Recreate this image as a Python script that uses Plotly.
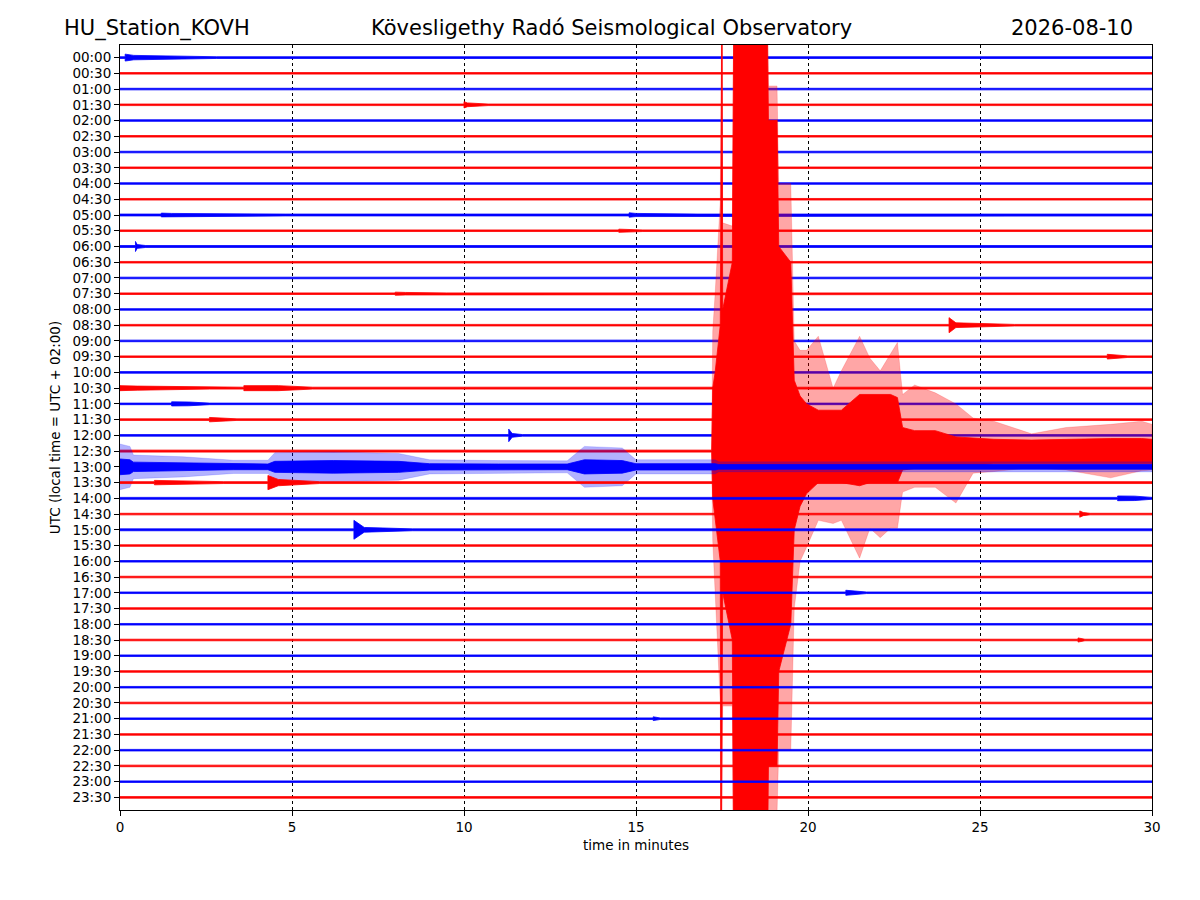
"""
Helicorder (dayplot) of station KOVH, 30-minute lines
- one envelope polygon per line, blue/red alternating
- the big event on the 12:30 line drawn in two layers (peaks + dense part)
"""
import plotly.graph_objects as go

# ---------------------------------------------------------------------------
# data (amplitudes in units of line spacing)
# ---------------------------------------------------------------------------
line_labels = ["00:00", "00:30", "01:00", "01:30", "02:00", "02:30", "03:00", "03:30",
               "04:00", "04:30", "05:00", "05:30", "06:00", "06:30", "07:00", "07:30",
               "08:00", "08:30", "09:00", "09:30", "10:00", "10:30", "11:00", "11:30",
               "12:00", "12:30", "13:00", "13:30", "14:00", "14:30", "15:00", "15:30",
               "16:00", "16:30", "17:00", "17:30", "18:00", "18:30", "19:00", "19:30",
               "20:00", "20:30", "21:00", "21:30", "22:00", "22:30", "23:00", "23:30"]

# background noise half-width of every line
base_amp = [0.055, 0.05, 0.05, 0.05, 0.05, 0.05, 0.05, 0.05,
            0.05, 0.05, 0.06, 0.05, 0.06, 0.05, 0.05, 0.05,
            0.05, 0.05, 0.05, 0.05, 0.05, 0.06, 0.05, 0.05,
            0.05, 0.05, 0.2, 0.06, 0.06, 0.05, 0.06, 0.05,
            0.05, 0.05, 0.05, 0.05, 0.05, 0.05, 0.05, 0.05,
            0.05, 0.05, 0.05, 0.05, 0.05, 0.05, 0.05, 0.05]

# small local bursts: line, start, end of onset, end (minutes), onset / coda half-width
burst_line = [0, 3, 10, 10, 11, 12, 15, 17, 19, 21, 21, 22, 23, 24, 27, 27, 28, 29, 30, 34, 37, 42]
burst_start = [0.15, 10.0, 1.2, 14.8, 14.5, 0.45, 8.0, 24.1, 28.7, 0.0, 3.6, 1.5, 2.6, 11.3,
               1.0, 4.3, 29.0, 27.9, 6.8, 21.1, 27.85, 15.5]
burst_decay = [0.4, 10.1, 1.5, 15.0, 14.7, 0.5, 8.3, 24.3, 29.0, 0.5, 4.6, 2.0, 2.8, 11.4,
               1.5, 4.6, 29.5, 28.0, 7.1, 21.3, 27.95, 15.6]
burst_end = [2.8, 10.7, 4.8, 16.8, 15.2, 0.75, 9.5, 26.0, 29.3, 2.6, 5.6, 2.6, 3.4, 11.7,
             3.0, 5.8, 30.0, 28.2, 8.5, 21.7, 28.05, 15.7]
burst_amp = [0.22, 0.2, 0.12, 0.14, 0.1, 0.32, 0.1, 0.48, 0.15, 0.16, 0.16, 0.13, 0.14, 0.4,
             0.14, 0.45, 0.15, 0.2, 0.6, 0.16, 0.13, 0.12]
burst_tail = [0.14, 0.12, 0.1, 0.1, 0.08, 0.12, 0.08, 0.15, 0.12, 0.13, 0.16, 0.12, 0.12, 0.12,
              0.12, 0.2, 0.14, 0.1, 0.15, 0.12, 0.1, 0.08]

# the 13:00 line (continuing coda): peaks and dense part
l1300_min = [0.0, 0.29, 0.39, 1.84, 3.3, 4.3, 4.5, 6.2, 8.1, 9.0, 11.0, 13.0, 13.5, 14.6,
             15.0, 17.3, 17.4, 30.0]
l1300_out = [1.45, 1.3, 0.75, 0.64, 0.42, 0.42, 0.9, 0.95, 0.85, 0.45, 0.4, 0.38, 1.3, 1.2,
             0.45, 0.45, 0.32, 0.32]
l1300_in = [0.5, 0.45, 0.3, 0.25, 0.18, 0.18, 0.35, 0.4, 0.35, 0.2, 0.18, 0.18, 0.45, 0.4,
            0.2, 0.2, 0.15, 0.15]

# the earthquake on the 12:30 line: peaks (outer) and dense part (inner)
quake_min = [0.0, 17.2, 17.23, 17.3, 17.45, 17.47, 17.5, 17.52, 17.8, 17.85, 18.8, 18.85,
             19.1, 19.15, 19.5, 19.6, 19.77, 19.96, 20.3, 20.73, 20.97, 21.5, 21.8, 22.1,
             22.4, 22.6, 22.75, 23.1, 23.7, 24.3, 24.8, 25.4, 26.5, 27.5, 28.8, 29.7, 30.0]
quake_out_up = [0.06, 0.06, 7.6, 10.0, 15.9, 31.0, 31.0, 14.5, 14.3, 31.0, 31.0, 23.2,
                23.2, 17.0, 17.0, 7.0, 6.4, 6.4, 7.3, 4.0, 5.1, 7.3, 5.9, 5.1,
                6.2, 6.9, 3.6, 4.2, 3.7, 3.0, 2.1, 1.9, 1.1, 1.5, 1.7, 1.9, 1.7]
quake_out_dn = [0.06, 0.06, 5.7, 8.9, 16.0, 31.0, 31.0, 16.2, 16.2, 31.0, 31.0, 23.0,
                23.0, 19.0, 19.0, 10.0, 7.0, 6.1, 4.4, 4.6, 4.4, 6.8, 4.9, 5.5,
                4.9, 4.9, 2.6, 2.3, 2.3, 3.3, 1.4, 1.3, 1.05, 1.2, 1.7, 1.25, 1.2]
quake_in_up = [0.06, 0.06, 4.0, 5.0, 8.0, 31.0, 31.0, 9.0, 12.0, 31.0, 31.0, 21.0,
               21.0, 13.0, 12.0, 4.5, 3.5, 3.0, 2.6, 2.6, 2.6, 3.6, 3.6, 3.6,
               3.6, 3.4, 1.5, 1.3, 1.3, 0.9, 0.85, 0.75, 0.7, 0.75, 0.8, 0.8, 0.75]
quake_in_dn = [0.06, 0.06, 3.0, 4.0, 7.0, 31.0, 31.0, 9.0, 12.0, 31.0, 31.0, 20.0,
               20.0, 14.0, 11.0, 5.0, 3.5, 2.7, 2.0, 2.0, 2.0, 2.2, 2.0, 2.0,
               2.0, 2.0, 1.2, 1.1, 1.1, 1.0, 0.9, 0.8, 0.8, 0.8, 0.8, 0.8, 0.8]
QUAKE_LINE = 25
CODA_LINE = 26

colors = ["#0000ff", "#ff0000"]
faint = ["rgba(0,0,255,0.3)", "rgba(255,0,0,0.35)"]


def band(x, up, dn, pos):
    # closed polygon: top edge left->right, bottom edge right->left
    xs = list(x) + list(x)[::-1]
    ys = [pos - u for u in up] + [pos + d for d in dn][::-1]
    return xs, ys


def add_band(fig, xs, ys, fill, width=0.8):
    fig.add_trace(go.Scatter(x=xs, y=ys, fill="toself", fillcolor=fill,
                             mode="lines", line=dict(color=fill, width=width),
                             hoverinfo="skip", showlegend=False))


fig = go.Figure()

for i, lab in enumerate(line_labels):
    col = colors[i % 2]
    b = base_amp[i]
    if i == QUAKE_LINE:
        add_band(fig, *band(quake_min, quake_out_up, quake_out_dn, i), faint[1], 0.5)
        add_band(fig, *band(quake_min, quake_in_up, quake_in_dn, i), col)
        continue
    if i == CODA_LINE:
        add_band(fig, *band(l1300_min, l1300_out, l1300_out, i), faint[0], 0.5)
        add_band(fig, *band(l1300_min, l1300_in, l1300_in, i), col)
        continue
    tx, amp = [0.0], [b]
    for k in sorted([k for k in range(len(burst_line)) if burst_line[k] == i],
                    key=lambda k: burst_start[k]):
        tx += [burst_start[k], burst_start[k], burst_decay[k], burst_end[k]]
        amp += [b, burst_amp[k], burst_tail[k], b]
    tx.append(30.0)
    amp.append(b)
    add_band(fig, *band(tx, amp, amp, i), col)

font = dict(family="DejaVu Sans", color="black")

fig.update_layout(
    width=1200, height=900,
    margin=dict(l=112, r=56, t=37, b=98),
    paper_bgcolor="white", plot_bgcolor="white",
    hovermode=False,
    font=dict(family="DejaVu Sans", size=13.5, color="black"),
    xaxis=dict(range=[0, 30], tickvals=[0, 5, 10, 15, 20, 25, 30],
               ticks="outside", ticklen=5, tickcolor="black",
               showgrid=True, gridcolor="black", griddash="dot", gridwidth=0.6,
               showline=True, linecolor="black", linewidth=1, mirror=True,
               zeroline=False,
               title=dict(text="time in minutes", font=dict(size=13.5), standoff=6)),
    yaxis=dict(range=[47.8, -0.8], tickvals=list(range(len(line_labels))),
               ticktext=line_labels, ticks="outside", ticklen=5, tickcolor="black",
               showgrid=False, zeroline=False,
               showline=True, linecolor="black", linewidth=1, mirror=True,
               title=dict(text="UTC (local time = UTC + 02:00)", font=dict(size=13.5), standoff=8)),
    annotations=[
        dict(text="HU_Station_KOVH", xref="paper", yref="paper", x=-0.056, y=1.022,
             xanchor="left", yanchor="middle", showarrow=False, font=dict(size=21, **font)),
        dict(text="Kövesligethy Radó Seismological Observatory", xref="paper", yref="paper",
             x=0.476, y=1.022, xanchor="center", yanchor="middle", showarrow=False,
             font=dict(size=21, **font)),
        dict(text="2026-08-10", xref="paper", yref="paper", x=0.9835, y=1.022,
             xanchor="right", yanchor="middle", showarrow=False, font=dict(size=21, **font)),
    ],
)

fig.write_html("out.html")
